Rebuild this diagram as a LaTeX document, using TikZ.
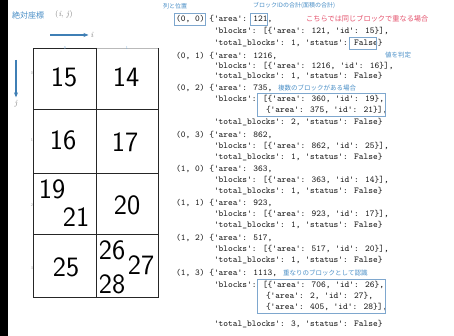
\documentclass[tikz,border=0pt]{standalone}
\usepackage{fontspec}
\newfontfamily\jpfont{Noto Sans CJK JP}
\usetikzlibrary{arrows.meta}
\definecolor{annblue}{HTML}{4A8FC7}
\definecolor{annred}{HTML}{E5546E}
\definecolor{boxblue}{HTML}{7EA7CE}
\definecolor{arrblue}{HTML}{3F7FB5}
\definecolor{codegray}{HTML}{1A1A1A}
\newcommand\q{\textquotesingle}
\begin{document}
\begin{tikzpicture}[x=1pt,y=-1pt,
  code/.style={anchor=west,inner sep=0pt,text height=6pt,text depth=1.5pt,font=\ttfamily\fontsize{9}{9}\selectfont,text=codegray},
  num/.style={inner sep=0pt,font=\sffamily\fontsize{28}{28}\selectfont},
  ann/.style={anchor=west,inner sep=0pt,font=\jpfont\fontsize{6.5}{6.5}\selectfont,text=annblue},
  hbox/.style={draw=boxblue,line width=0.7pt,inner sep=0pt},
  tick/.style={inner sep=0pt,font=\sffamily\fontsize{4}{4}\selectfont,text=gray!70},
  gridline/.style={line width=0.8pt,draw=black!85}]
\useasboundingbox (0,0) rectangle (454,336);
\fill[white] (0,0) rectangle (454,336);
\fill[black] (0,0) rectangle (8,336);

% header left
\node[anchor=west,inner sep=0pt,font=\jpfont\fontsize{8}{8}\selectfont,text=annblue] (title) at (12,15) {絶対座標};
\node[anchor=west,inner sep=0pt,font=\fontsize{8}{8}\selectfont,text=gray] (titleij) at (55,15) {(\textit{i}, \textit{j})};

% axes
\coordinate (ia) at (50,35);
\node[inner sep=0pt,font=\fontsize{8}{8}\selectfont\itshape,text=gray] (ilab) at (92,35) {i};
\draw[arrblue,line width=1.2pt,-{Stealth[length=5pt,width=4pt]}] (ia) -- ([xshift=-2pt]ilab.west);
\coordinate (ja) at (16,60);
\node[inner sep=0pt,font=\fontsize{8}{8}\selectfont\itshape,text=gray] (jlab) at (16,104) {j};
\draw[arrblue,line width=1.2pt,-{Stealth[length=5pt,width=4pt]}] (ja) -- ([yshift=3pt]jlab.north);

% grid
\draw[gridline] (96,48) -- (33,48) -- (33,297) -- (158,297) -- (158,48);
\draw[line width=0.8pt,gray!55] (96,48) -- (158,48);
\draw[gridline] (96,48) -- (96,297);
\draw[gridline] (33,109) -- (158,109);
\draw[gridline] (33,173) -- (158,173);
\draw[gridline] (33,234) -- (158,234);

\node[tick,text=annblue!70] (tx0) at (65,48) {0};
\node[tick,text=annblue!70] (tx1) at (127,48) {1};
\node[tick] (ty0) at (32,73) {0};
\node[tick] (ty1) at (32,140) {1};
\node[tick] (ty2) at (32,205) {2};
\node[tick] (ty3) at (32,268) {3};

\node[num] (n15) at (64,77) {15};
\node[num] (n14) at (126,77) {14};
\node[num] (n16) at (63,140) {16};
\node[num] (n17) at (125,142) {17};
\node[num] (n19) at (52,189) {19};
\node[num] (n21) at (76,217) {21};
\node[num] (n20) at (127,205) {20};
\node[num] (n25) at (66,267) {25};
\node[num] (n26) at (112,250) {26};
\node[num] (n27) at (141,265) {27};
\node[num] (n28) at (112,284) {28};

% annotations
\node[ann,font=\jpfont\fontsize{6}{6}\selectfont] (h1) at (163,6) {列と位置};
\node[ann,font=\jpfont\fontsize{6}{6}\selectfont] (h2) at (253,6) {ブロックIDの合計(面積の合計)};
\node[ann,text=annred,font=\jpfont\fontsize{7.2}{7.2}\selectfont] (h3) at (306,19) {こちらでは同じブロックで重なる場合};
\node[ann] (a1) at (385,55) {値を判定};
\node[ann] (a2) at (278,88) {複数のブロックがある場合};
\node[ann] (a3) at (283,273) {重なりのブロックとして認識};

% code lines
\node[code] (c00a) at (176,19) {(0, 0) \{\q area\q: 121,};
\node[code] (c00b) at (213.8,31) {\q blocks\q: [\{\q area\q: 121, \q id\q: 15\}],};
\node[code] (c00c) at (213.8,43) {\q total\_blocks\q: 1, \q status\q: False\}};
\node[code] (c01a) at (176,56) {(0, 1) \{\q area\q: 1216,};
\node[code] (c01b) at (213.8,66) {\q blocks\q: [\{\q area\q: 1216, \q id\q: 16\}],};
\node[code] (c01c) at (213.8,76) {\q total\_blocks\q: 1, \q status\q: False\}};
\node[code] (c02a) at (176,88) {(0, 2) \{\q area\q: 735,};
\node[code] (c02b) at (213.8,99) {\q blocks\q: [\{\q area\q: 360, \q id\q: 19\},};
\node[code] (c02d) at (265.8,110) {\{\q area\q: 375, \q id\q: 21\}],};
\node[code] (c02c) at (213.8,122) {\q total\_blocks\q: 2, \q status\q: False\}};
\node[code] (c03a) at (176,135) {(0, 3) \{\q area\q: 862,};
\node[code] (c03b) at (213.8,146) {\q blocks\q: [\{\q area\q: 862, \q id\q: 25\}],};
\node[code] (c03c) at (213.8,157) {\q total\_blocks\q: 1, \q status\q: False\}};
\node[code] (c10a) at (176,169) {(1, 0) \{\q area\q: 363,};
\node[code] (c10b) at (213.8,180) {\q blocks\q: [\{\q area\q: 363, \q id\q: 14\}],};
\node[code] (c10c) at (213.8,191) {\q total\_blocks\q: 1, \q status\q: False\}};
\node[code] (c11a) at (176,203) {(1, 1) \{\q area\q: 923,};
\node[code] (c11b) at (213.8,214) {\q blocks\q: [\{\q area\q: 923, \q id\q: 17\}],};
\node[code] (c11c) at (213.8,225) {\q total\_blocks\q: 1, \q status\q: False\}};
\node[code] (c12a) at (176,238) {(1, 2) \{\q area\q: 517,};
\node[code] (c12b) at (213.8,249) {\q blocks\q: [\{\q area\q: 517, \q id\q: 20\}],};
\node[code] (c12c) at (213.8,260) {\q total\_blocks\q: 1, \q status\q: False\}};
\node[code] (c13a) at (176,273) {(1, 3) \{\q area\q: 1113,};
\node[code] (c13b) at (213.8,285) {\q blocks\q: [\{\q area\q: 706, \q id\q: 26\},};
\node[code] (c13d) at (265.8,296) {\{\q area\q: 2, \q id\q: 27\},};
\node[code] (c13e) at (265.8,307) {\{\q area\q: 405, \q id\q: 28\}],};
\node[code] (c13c) at (213.8,324) {\q total\_blocks\q: 3, \q status\q: False\}};

% highlight boxes
\node[hbox,minimum width=31pt,minimum height=12pt] (b1) at (190.2,19) {};
\node[hbox,minimum width=17pt,minimum height=12pt] (b2) at (258.7,19) {};
\node[hbox,minimum width=27pt,minimum height=12pt] (b3) at (362.6,43) {};
\node[hbox,minimum width=128pt,minimum height=23pt] (b4) at (321,104.5) {};
\node[hbox,minimum width=128pt,minimum height=34pt] (b5) at (321,296) {};
\end{tikzpicture}
\end{document}
